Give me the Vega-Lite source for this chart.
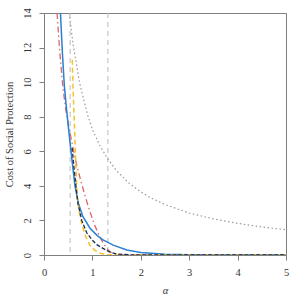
{
  "$schema": "https://vega.github.io/schema/vega-lite/v6.json",
  "width": 242,
  "height": 242,
  "autosize": "none",
  "padding": {"left": 44, "top": 13, "right": 14, "bottom": 45},
  "config": {
    "font": "Liberation Serif",
    "view": {"stroke": "#7f7f7f", "strokeWidth": 1},
    "axis": {"grid": false, "domainColor": "#7f7f7f", "tickColor": "#7f7f7f", "tickSize": 5, "labelColor": "#333", "titleColor": "#333", "labelFontSize": 10.5, "titleFontSize": 10.5, "titleFontWeight": "normal", "labelFont": "Liberation Serif", "titleFont": "Liberation Serif", "labelOverlap": false},
    "axisY": {"labelAngle": -90, "labelAlign": "center", "labelBaseline": "bottom", "labelOverlap": false}
  },
  "datasets": {
    "curves": [
      {"s": "gray", "a": 0.52, "v": 14.0},
      {"s": "gray", "a": 0.6, "v": 12.2},
      {"s": "gray", "a": 0.74, "v": 9.9},
      {"s": "gray", "a": 0.9, "v": 8.1},
      {"s": "gray", "a": 1.01, "v": 7.2},
      {"s": "gray", "a": 1.15, "v": 6.35},
      {"s": "gray", "a": 1.32, "v": 5.55},
      {"s": "gray", "a": 1.5, "v": 4.87},
      {"s": "gray", "a": 1.75, "v": 4.17},
      {"s": "gray", "a": 2.0, "v": 3.65},
      {"s": "gray", "a": 2.19, "v": 3.33},
      {"s": "gray", "a": 2.5, "v": 2.92},
      {"s": "gray", "a": 3.0, "v": 2.43},
      {"s": "gray", "a": 3.5, "v": 2.09},
      {"s": "gray", "a": 4.0, "v": 1.83},
      {"s": "gray", "a": 4.5, "v": 1.62},
      {"s": "gray", "a": 5.0, "v": 1.46},

      {"s": "red", "a": 0.27, "v": 14.0},
      {"s": "red", "a": 0.33, "v": 11.6},
      {"s": "red", "a": 0.39, "v": 9.7},
      {"s": "red", "a": 0.45, "v": 8.4},
      {"s": "red", "a": 0.52, "v": 7.3},
      {"s": "red", "a": 0.6, "v": 6.2},
      {"s": "red", "a": 0.675, "v": 5.2},
      {"s": "red", "a": 0.75, "v": 4.4},
      {"s": "red", "a": 0.85, "v": 3.4},
      {"s": "red", "a": 0.95, "v": 2.5},
      {"s": "red", "a": 1.05, "v": 1.7},
      {"s": "red", "a": 1.16, "v": 1.0},
      {"s": "red", "a": 1.25, "v": 0.58},
      {"s": "red", "a": 1.32, "v": 0.3},
      {"s": "red", "a": 1.42, "v": 0.08},
      {"s": "red", "a": 1.55, "v": 0.01},
      {"s": "red", "a": 2.0, "v": 0.0},
      {"s": "red", "a": 5.0, "v": 0.0},

      {"s": "yellow", "a": 0.585, "v": 11.3},
      {"s": "yellow", "a": 0.6, "v": 9.7},
      {"s": "yellow", "a": 0.63, "v": 7.4},
      {"s": "yellow", "a": 0.66, "v": 5.1},
      {"s": "yellow", "a": 0.68, "v": 3.6},
      {"s": "yellow", "a": 0.72, "v": 2.6},
      {"s": "yellow", "a": 0.78, "v": 1.8},
      {"s": "yellow", "a": 0.85, "v": 1.15},
      {"s": "yellow", "a": 0.95, "v": 0.55},
      {"s": "yellow", "a": 1.05, "v": 0.27},
      {"s": "yellow", "a": 1.16, "v": 0.1},
      {"s": "yellow", "a": 1.3, "v": 0.02},
      {"s": "yellow", "a": 1.5, "v": 0.0},
      {"s": "yellow", "a": 5.0, "v": 0.0},

      {"s": "dark", "a": 0.58, "v": 6.2},
      {"s": "dark", "a": 0.64, "v": 4.5},
      {"s": "dark", "a": 0.7, "v": 3.0},
      {"s": "dark", "a": 0.78, "v": 2.0},
      {"s": "dark", "a": 0.88, "v": 1.3},
      {"s": "dark", "a": 1.0, "v": 0.85},
      {"s": "dark", "a": 1.09, "v": 0.6},
      {"s": "dark", "a": 1.22, "v": 0.38},
      {"s": "dark", "a": 1.36, "v": 0.17},
      {"s": "dark", "a": 1.5, "v": 0.06},
      {"s": "dark", "a": 1.8, "v": 0.01},
      {"s": "dark", "a": 2.0, "v": 0.0},
      {"s": "dark", "a": 5.0, "v": 0.0},

      {"s": "blue", "a": 0.34, "v": 14.0},
      {"s": "blue", "a": 0.38, "v": 11.7},
      {"s": "blue", "a": 0.42, "v": 9.8},
      {"s": "blue", "a": 0.46, "v": 8.6},
      {"s": "blue", "a": 0.5, "v": 7.5},
      {"s": "blue", "a": 0.55, "v": 6.2},
      {"s": "blue", "a": 0.59, "v": 5.2},
      {"s": "blue", "a": 0.64, "v": 4.0},
      {"s": "blue", "a": 0.71, "v": 3.0},
      {"s": "blue", "a": 0.8, "v": 2.25},
      {"s": "blue", "a": 0.95, "v": 1.55},
      {"s": "blue", "a": 1.1, "v": 1.12},
      {"s": "blue", "a": 1.22, "v": 0.87},
      {"s": "blue", "a": 1.43, "v": 0.57},
      {"s": "blue", "a": 1.71, "v": 0.29},
      {"s": "blue", "a": 2.0, "v": 0.15},
      {"s": "blue", "a": 2.5, "v": 0.05},
      {"s": "blue", "a": 3.0, "v": 0.02},
      {"s": "blue", "a": 3.5, "v": 0.0},
      {"s": "blue", "a": 5.0, "v": 0.0}
    ],
    "vlines": [{"a": 0.54}, {"a": 1.32}]
  },
  "encoding": {
    "x": {"field": "a", "type": "quantitative",
      "scale": {"domain": [0, 5], "nice": false, "zero": false},
      "axis": {"values": [0, 1, 2, 3, 4, 5], "title": "α", "titleFontStyle": "italic", "labelPadding": 7, "titlePadding": 8, "labelFlush": false, "labelOverlap": false}}
  },
  "layer": [
    {
      "data": {"name": "vlines"},
      "mark": {"type": "rule", "color": "#bbbbbb", "strokeDash": [5, 4], "strokeWidth": 1}
    },
    {
      "data": {"name": "curves"},
      "transform": [{"filter": "datum.s === 'gray'"}],
      "mark": {"type": "line", "color": "#999999", "strokeDash": [1.5, 2.5], "strokeWidth": 1.2, "clip": true},
      "encoding": {
        "y": {"field": "v", "type": "quantitative",
          "scale": {"domain": [0, 14], "nice": false, "zero": true},
          "axis": {"values": [0, 2, 4, 6, 8, 10, 12, 14], "tickCount": 8, "title": "Cost of Social Protection", "labelAngle": -90, "labelAlign": "center", "labelBaseline": "bottom", "labelPadding": 7, "titlePadding": 8, "labelFlush": false, "labelOverlap": false}}
      }
    },
    {
      "data": {"name": "curves"},
      "transform": [{"filter": "datum.s === 'red'"}],
      "mark": {"type": "line", "color": "#e06666", "strokeDash": [6, 3, 1.5, 3], "strokeWidth": 1.3, "clip": true},
      "encoding": {"y": {"field": "v", "type": "quantitative"}}
    },
    {
      "data": {"name": "curves"},
      "transform": [{"filter": "datum.s === 'blue'"}],
      "mark": {"type": "line", "color": "#2a80d2", "strokeWidth": 1.5, "clip": true},
      "encoding": {"y": {"field": "v", "type": "quantitative"}}
    },
    {
      "data": {"name": "curves"},
      "transform": [{"filter": "datum.s === 'yellow'"}],
      "mark": {"type": "line", "color": "#f5c228", "strokeDash": [5, 3], "strokeWidth": 1.5, "clip": true},
      "encoding": {"y": {"field": "v", "type": "quantitative"}}
    },
    {
      "data": {"name": "curves"},
      "transform": [{"filter": "datum.s === 'dark'"}],
      "mark": {"type": "line", "color": "#1c2d4f", "strokeDash": [4, 2], "strokeWidth": 1.3, "clip": true},
      "encoding": {"y": {"field": "v", "type": "quantitative"}}
    }
  ]
}
